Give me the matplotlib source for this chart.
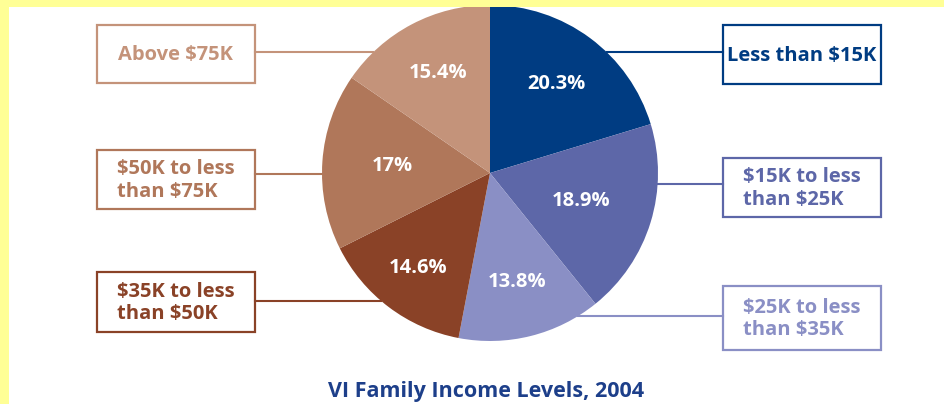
import numpy as np
import matplotlib
matplotlib.use("Agg")
import matplotlib.pyplot as plt
from matplotlib.patches import Rectangle

# slice data, clockwise from 12 o'clock
categories = ["Less than $15K", "$15K to less\nthan $25K", "$25K to less\nthan $35K",
              "$35K to less\nthan $50K", "$50K to less\nthan $75K", "Above $75K"]
shares = [20.3, 18.9, 13.8, 14.6, 17.0, 15.4]
colors = ["#003c82", "#5d67a8", "#8a8fc5", "#8a4227", "#b0775a", "#c4937a"]
title = "VI Family Income Levels, 2004"

# layout (pixels)
W, H = 944, 404
cx, cy, r = 490, 173, 168
pct_dist = [0.66, 0.57, 0.67, 0.71, 0.58, 0.67]
# box: (left, top, width, height), connector y
boxes = [(723, 25, 158, 59, 52), (723, 158, 158, 59, 184), (723, 286, 158, 64, 316),
         (97, 272, 158, 60, 301), (97, 150, 158, 59, 174), (97, 25, 158, 58, 52)]
side = ["R", "R", "R", "L", "L", "L"]

plt.rcParams['font.family'] = ['Open Sans', 'DejaVu Sans']

fig = plt.figure(figsize=(W / 100, H / 100), dpi=100)
fig.patch.set_facecolor("white")

pie_ax = fig.add_axes([(cx - r) / W, (H - cy - r) / H, 2 * r / W, 2 * r / H])
wedges, texts, autotexts = pie_ax.pie(
    shares, colors=colors, startangle=90, counterclock=False,
    autopct=lambda p: f"{p:.1f}".rstrip("0").rstrip(".") + "%",
    wedgeprops=dict(linewidth=0), textprops=dict(color="white", fontsize=14.5, fontweight="bold"))
pie_ax.set_xlim(-1, 1)
pie_ax.set_ylim(-1, 1)
pie_ax.set_aspect("equal")

for w, t, d in zip(wedges, autotexts, pct_dist):
    ang = np.deg2rad((w.theta1 + w.theta2) / 2)
    t.set_position((d * np.cos(ang), d * np.sin(ang)))

ov = fig.add_axes([0, 0, 1, 1], zorder=5)
ov.set_xlim(0, W)
ov.set_ylim(H, 0)
ov.axis("off")

for lab, col, (bx, by, bw, bh, ly), s in zip(categories, colors, boxes, side):
    ov.add_patch(Rectangle((bx, by), bw, bh, fill=False, edgecolor=col, linewidth=1.6))
    ov.text(bx + bw / 2, by + bh / 2 + 1, lab, color=col, fontsize=14.5, fontweight="bold",
            ha="center", va="center", multialignment="left", linespacing=1.2)
    dx = np.sqrt(max(r ** 2 - (ly - cy) ** 2, 0))
    if s == "R":
        ov.plot([cx + dx, bx], [ly, ly], color=col, linewidth=1.5)
    else:
        ov.plot([bx + bw, cx - dx], [ly, ly], color=col, linewidth=1.5)

ov.text(486, 392, title, color="#1d3f8a", fontsize=15.5, fontweight="bold",
        ha="center", va="center")

# yellow frame
yellow = "#ffff96"
ov.add_patch(Rectangle((0, 0), W, 7, facecolor=yellow, edgecolor="none", zorder=10))
ov.add_patch(Rectangle((0, 0), 9, H, facecolor=yellow, edgecolor="none", zorder=10))

fig.savefig("out.png", dpi=100)
